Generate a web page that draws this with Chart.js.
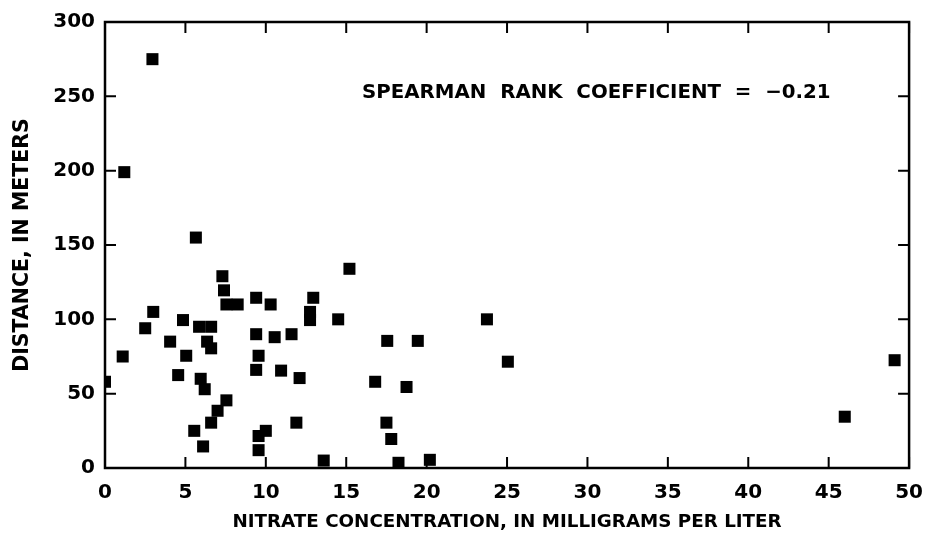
<!DOCTYPE html>
<html><head><meta charset="utf-8">
<script src="https://cdn.jsdelivr.net/npm/chart.js@4.4.0/dist/chart.umd.min.js"></script>
<style>html,body{margin:0;padding:0;background:#fff;}#wrap{width:936px;height:536px;}</style>
</head><body><div id="wrap"><canvas id="c" width="936" height="536"></canvas></div>
<script>
// Nitrate concentration (mg/L)
const nitrate = [0, 1.1, 1.2, 2.5, 2.95, 3.0, 4.05, 4.55, 4.85, 5.05,
  5.55, 5.65, 5.85, 5.95, 6.1, 6.2, 6.35, 6.6, 6.6, 6.6,
  7.0, 7.55, 7.3, 7.4, 7.55, 8.25, 9.4, 9.4, 9.4, 9.55,
  9.55, 9.55, 10.0, 10.3, 10.55, 10.95, 11.6, 11.9, 12.1, 12.75,
  12.75, 12.95, 13.6, 14.5, 15.2, 16.8, 17.5, 17.55, 17.8, 18.25,
  18.75, 19.45, 20.2, 23.75, 25.05, 46.0, 49.1];
// Distance (m)
const distance = [58, 75, 199, 94, 275, 105, 85, 62.5, 99.5, 75.5,
  25, 155, 95, 60, 14.5, 53, 85, 80.5, 95, 30.5,
  38.5, 45.5, 129, 119.5, 110, 110, 114.5, 90, 66, 75.5,
  21.5, 12, 25, 110, 88, 65.5, 90, 30.5, 60.5, 105,
  99.5, 114.5, 5, 100, 134, 58, 30.5, 85.5, 19.5, 3.5,
  54.5, 85.5, 5.5, 100, 71.5, 34.5, 72.5];
const xTicks = [0, 5, 10, 15, 20, 25, 30, 35, 40, 45, 50];
const yTicks = [0, 50, 100, 150, 200, 250, 300];
const xTitle = 'NITRATE CONCENTRATION, IN MILLIGRAMS PER LITER';
const yTitle = 'DISTANCE, IN METERS';
const note = 'SPEARMAN  RANK  COEFFICIENT  =  \u22120.21';

const FONT = "'DejaVu Sans', sans-serif";

const framePlugin = {
  id: 'frame',
  afterDatasetsDraw(chart) {
    const {ctx, chartArea: {left, right, top, bottom}, scales: {x, y}} = chart;
    ctx.save();
    ctx.strokeStyle = '#000';
    ctx.lineWidth = 2.5;
    ctx.strokeRect(left, top, right - left, bottom - top);
    ctx.lineWidth = 2;
    const L = 11;
    ctx.beginPath();
    x.ticks.forEach(t => {
      const px = x.getPixelForValue(t.value);
      ctx.moveTo(px, bottom); ctx.lineTo(px, bottom - L);
      ctx.moveTo(px, top); ctx.lineTo(px, top + L);
    });
    y.ticks.forEach(t => {
      const py = y.getPixelForValue(t.value);
      ctx.moveTo(left, py); ctx.lineTo(left + L, py);
      ctx.moveTo(right, py); ctx.lineTo(right - L, py);
    });
    ctx.stroke();
    ctx.fillStyle = '#000';
    ctx.font = "bold 19.8px " + FONT;
    ctx.textAlign = 'center';
    ctx.textBaseline = 'middle';
    ctx.fillText(note, x.getPixelForValue(30.55), y.getPixelForValue(252));
    ctx.restore();
  }
};

new Chart(document.getElementById('c'), {
  type: 'scatter',
  data: {
    datasets: [{
      data: nitrate.map((v, i) => ({x: v, y: distance[i]})),
      pointStyle: 'rect',
      pointRadius: 8.5,
      pointHoverRadius: 8.5,
      backgroundColor: '#000',
      borderColor: '#000',
      borderWidth: 0
    }]
  },
  plugins: [framePlugin],
  options: {
    responsive: false,
    animation: false,
    events: [],
    layout: {autoPadding: false, padding: {left: 0, top: 20, right: 22, bottom: 0}},
    plugins: {legend: {display: false}, tooltip: {enabled: false}},
    scales: {
      x: {
        type: 'linear', min: 0, max: 50,
        afterBuildTicks: s => { s.ticks = xTicks.map(v => ({value: v})); },
        afterFit: s => { s.height = 68; },
        grid: {display: false, drawTicks: false},
        border: {display: false},
        ticks: {color: '#000', padding: 13, font: {family: FONT, size: 20, weight: 'bold'}},
        title: {display: true, text: xTitle, color: '#000', padding: {top: 0, bottom: 3},
          font: {family: FONT, size: 18.3, weight: 'bold'}}
      },
      y: {
        type: 'linear', min: 0, max: 300,
        afterBuildTicks: s => { s.ticks = yTicks.map(v => ({value: v})); },
        afterFit: s => { s.width = 105; },
        grid: {display: false, drawTicks: false},
        border: {display: false},
        ticks: {color: '#000', padding: 10, font: {family: FONT, size: 20, weight: 'bold'}},
        title: {display: true, text: yTitle, color: '#000', padding: {top: 10, bottom: 0},
          font: {family: FONT, size: 20.5, weight: 'bold'}}
      }
    }
  }
});
</script></body></html>
